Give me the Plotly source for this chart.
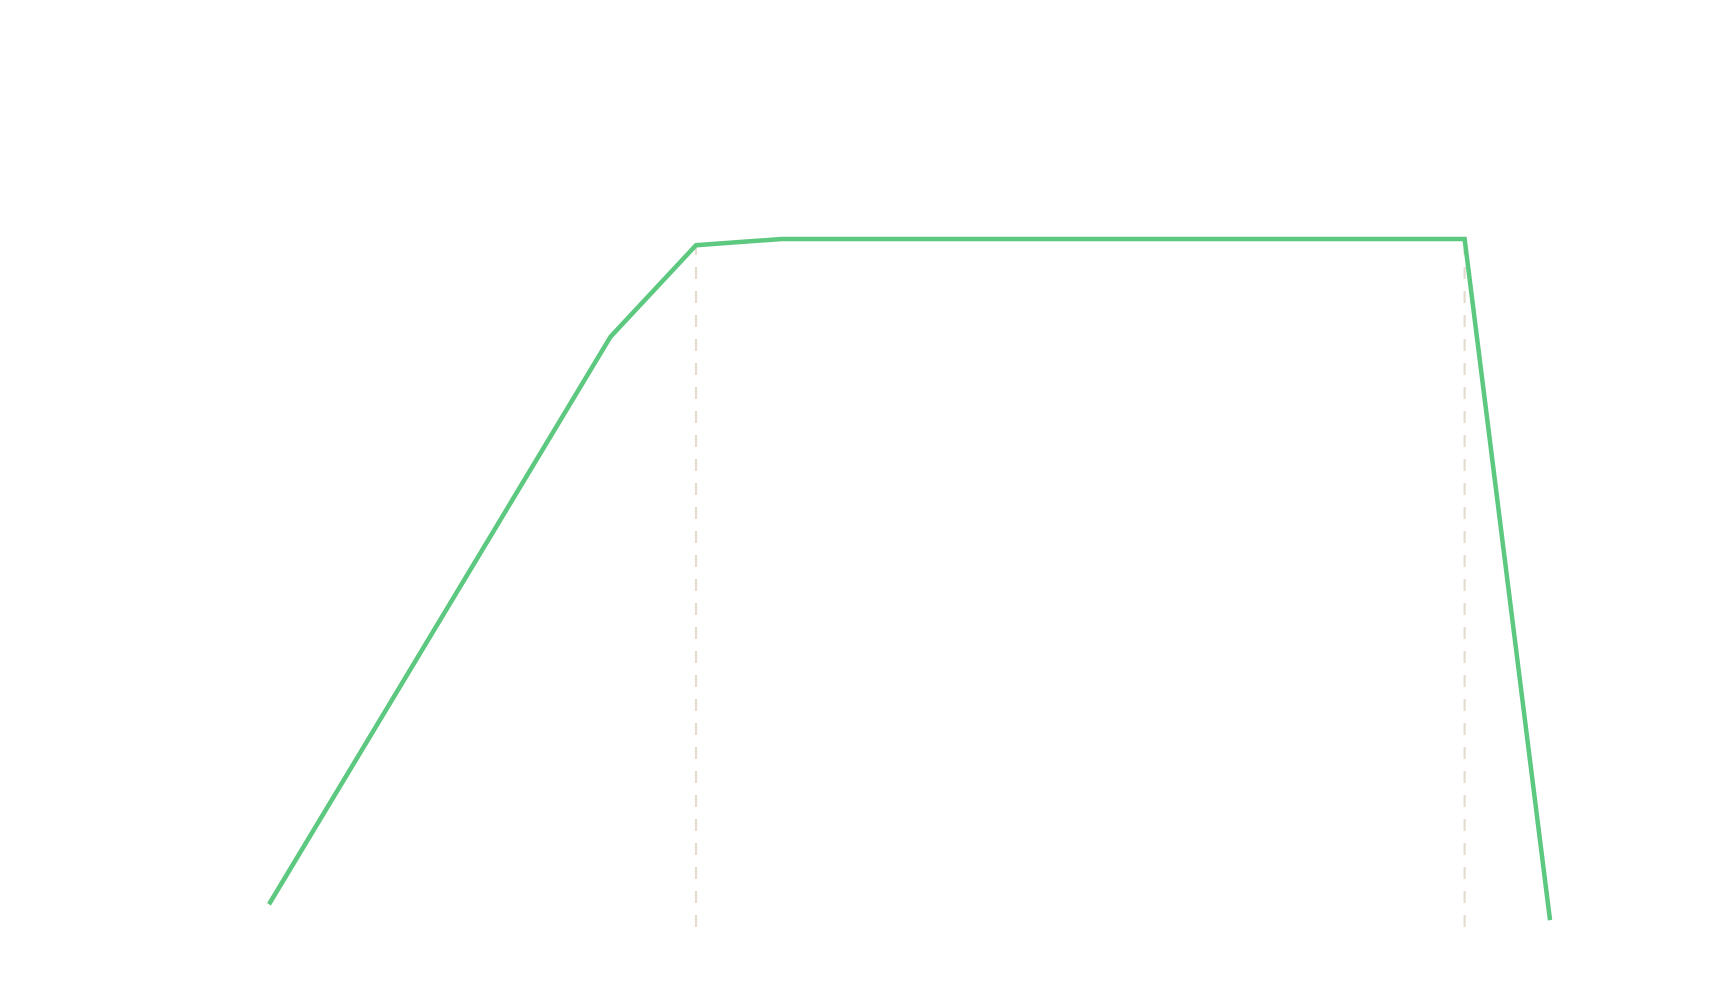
import plotly.graph_objects as go

# Data
x_vals = [0, 8, 10, 12, 28, 30]
y_vals = [3.3, 85.8, 99.1, 100, 100, 1.0]
marker_x = [10, 28]
marker_y = [99.1, 100]

fig = go.Figure()

for mx, my in zip(marker_x, marker_y):
    fig.add_trace(go.Scatter(
        x=[mx, mx], y=[0, my], mode="lines",
        line=dict(color="#E4DCCF", width=2.2, dash="12px,12px"),
        hoverinfo="skip", showlegend=False))

fig.add_trace(go.Scatter(
    x=x_vals, y=y_vals, mode="lines",
    line=dict(color="#5DC87F", width=4.5),
    showlegend=False))

fig.update_layout(
    width=1711, height=990,
    margin=dict(l=0, r=0, t=0, b=0),
    paper_bgcolor="white", plot_bgcolor="white",
    xaxis=dict(visible=False, range=[-6.30, 33.77]),
    yaxis=dict(visible=False, range=[-9.16, 134.74]),
)

fig.write_html("out.html")
